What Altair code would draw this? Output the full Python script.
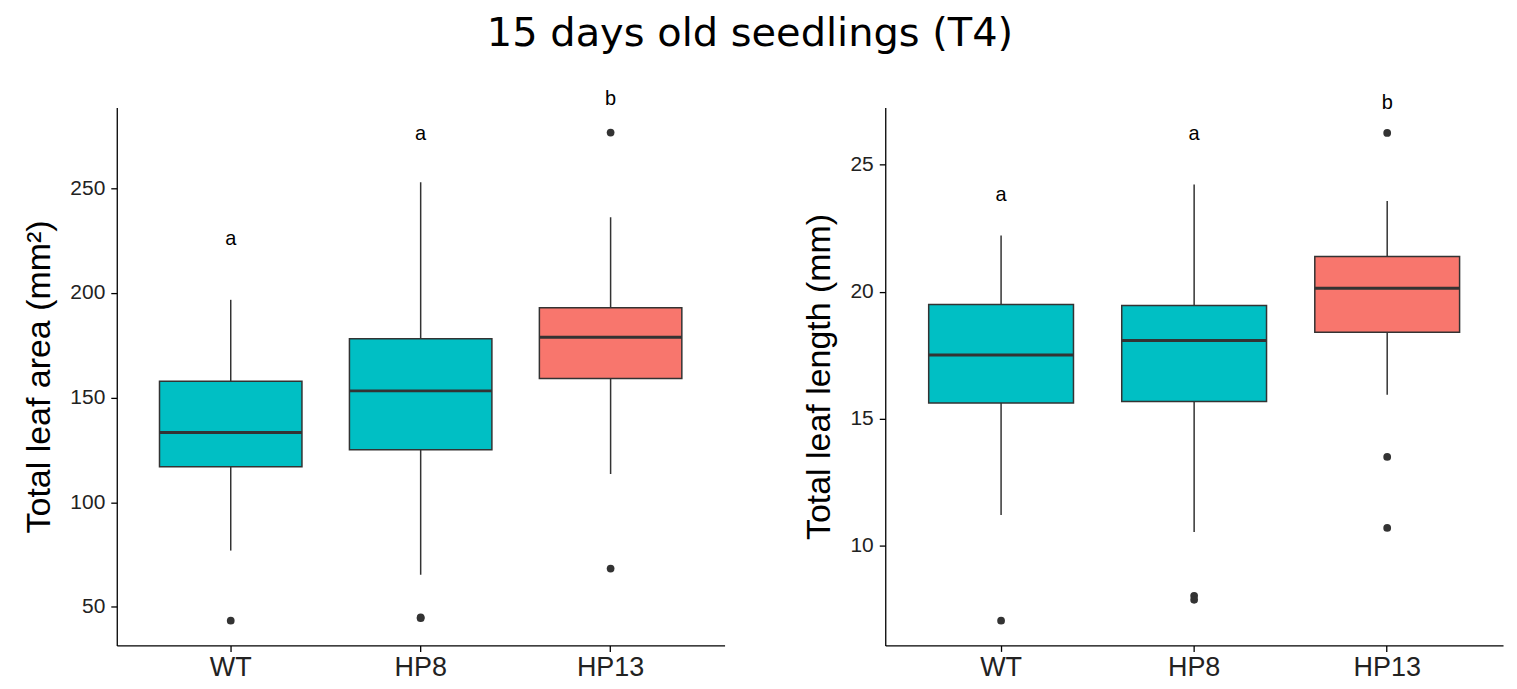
import altair as alt
import pandas as pd

groups = ["WT", "HP8", "HP13"]
fills = ["#00BFC4", "#00BFC4", "#F8766D"]
letters = ["a", "a", "b"]

# Total leaf area (mm²)
area_q1 = [117.0, 125.1, 159.1]
area_med = [133.3, 153.2, 178.8]
area_q3 = [157.8, 178.1, 192.9]
area_lo = [76.9, 65.4, 113.5]
area_hi = [196.7, 252.9, 236.2]
area_out_group = ["WT", "HP8", "HP8", "HP13", "HP13"]
area_out_val = [43.4, 44.6, 45.0, 68.3, 276.6]
area_letter_y = [225.7, 275.8, 292.4]
area_ticks = [50, 100, 150, 200, 250]
area_domain = [31.6, 288.6]

# Total leaf length (mm)
len_q1 = [15.62, 15.68, 18.40]
len_med = [17.51, 18.08, 20.13]
len_q3 = [19.49, 19.45, 21.38]
len_lo = [11.22, 10.55, 15.94]
len_hi = [22.21, 24.21, 23.56]
len_out_group = ["WT", "HP8", "HP8", "HP13", "HP13", "HP13"]
len_out_val = [7.06, 8.04, 7.88, 13.50, 10.71, 26.24]
len_letter_y = [23.81, 26.18, 27.42]
len_ticks = [10, 15, 20, 25]
len_domain = [6.09, 27.24]

DARK = "#333333"
PLOT_H = 539


def panel(q1, med, q3, lo, hi, out_g, out_v, let_y, ticks, domain, ytitle, width):
    box = pd.DataFrame({"group": groups, "q1": q1, "med": med, "q3": q3,
                        "lo": lo, "hi": hi, "fill": fills})
    outl = pd.DataFrame({"group": out_g, "v": out_v})
    lets = pd.DataFrame({"group": groups, "y": let_y, "label": letters})

    xenc = alt.X("group:N", sort=groups,
                 scale=alt.Scale(type="band", paddingInner=0.25, paddingOuter=0.225),
                 axis=alt.Axis(title=None, labelAngle=0, labelFontSize=27,
                               labelPadding=3))
    yscale = alt.Scale(domain=domain, nice=False, zero=False)
    yaxis = alt.Axis(values=ticks, title=ytitle, grid=False, labelFontSize=21,
                     titleFontSize=34, titlePadding=13, titleFontWeight="normal")

    bw = width / 3.2 * 0.75

    whisk = alt.Chart(box).mark_rule(color=DARK, strokeWidth=1.5).encode(
        x=xenc, y=alt.Y("lo:Q", scale=yscale, axis=yaxis), y2="hi:Q")
    bars = alt.Chart(box).mark_bar(stroke=DARK, strokeWidth=1.5, opacity=1).encode(
        x=xenc, y=alt.Y("q1:Q", scale=yscale, axis=yaxis), y2="q3:Q",
        fill=alt.Fill("fill:N", scale=None))
    medl = alt.Chart(box).mark_tick(color=DARK, thickness=3, size=bw,
                                    orient="horizontal", opacity=1).encode(
        x=xenc, y=alt.Y("med:Q", scale=yscale, axis=yaxis))
    pts = alt.Chart(outl).mark_circle(color=DARK, size=60, opacity=1).encode(
        x=xenc, y=alt.Y("v:Q", scale=yscale, axis=yaxis))
    txt = alt.Chart(lets).mark_text(fontSize=20, color="black",
                                    baseline="middle", font="Liberation Sans").encode(
        x=xenc, y=alt.Y("y:Q", scale=yscale, axis=yaxis), text="label:N")
    return alt.layer(whisk, bars, medl, pts, txt).properties(width=width, height=PLOT_H)


left = panel(area_q1, area_med, area_q3, area_lo, area_hi, area_out_group,
             area_out_val, area_letter_y, area_ticks, area_domain,
             "Total leaf area (mm²)", 609)
right = panel(len_q1, len_med, len_q3, len_lo, len_hi, len_out_group,
              len_out_val, len_letter_y, len_ticks, len_domain,
              "Total leaf length (mm)", 619)

chart = alt.hconcat(left, right, spacing=78).properties(
    title=alt.TitleParams("15 days old seedlings (T4)", fontSize=40,
                          font="DejaVu Sans", fontWeight="normal",
                          anchor="middle", offset=36, dx=-13, color="black"),
    padding={"left": 22, "top": 13, "right": 14, "bottom": 2},
    background="white",
).configure_view(stroke=None).configure_axis(
    domainColor="black", domainWidth=1.3, tickColor="black", tickWidth=1.3,
    tickSize=6, labelColor="#222222", titleColor="black",
    labelFont="Liberation Sans", titleFont="Liberation Sans", labelPadding=6
)

chart.save("out.html", embed_options={"renderer": "svg", "actions": False})
